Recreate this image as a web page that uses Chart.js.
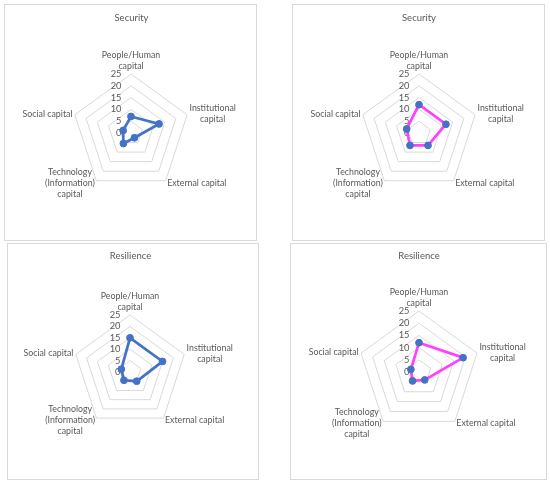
<!DOCTYPE html>
<html>
<head>
<meta charset="utf-8">
<script src="https://cdn.jsdelivr.net/npm/chart.js@4"></script>
<style>
  body { margin: 0; background: #fff; width: 550px; height: 484px; }
  .panel { position: absolute; border: 1px solid #d9d9d9; background: #fff; }
  .panel canvas { display: block; }
</style>
</head>
<body>
<div class="panel" id="p1"><canvas id="c1"></canvas></div>
<div class="panel" id="p2"><canvas id="c2"></canvas></div>
<div class="panel" id="p3"><canvas id="c3"></canvas></div>
<div class="panel" id="p4"><canvas id="c4"></canvas></div>
<script>
// categories around the radar, one array per label (lines)
const categories = [
    ['People/Human', 'capital'],
    ['Institutional', 'capital'],
    ['External capital'],
    ['Technology', '(Information)', 'capital'],
    ['Social capital']
];

// values
const securityLeft = [7, 12.5, 2.5, 5.5, 3.5];
const securityRight = [12, 12, 6.5, 6.5, 5.5];
const resilienceLeft = [15, 15, 5, 4.5, 4];
const resilienceRight = [12, 19, 4, 4.5, 3.5];

const scaleMin = 0;
const scaleMax = 25;
const scaleStep = 5;

const BLUE = '#4472C4';
const PINK = '#FF40FF';
const TEXT = '#595959';
const GRID = '#D9D9D9';
const FONT = 'Lato, "Open Sans", sans-serif';
const TITLE_SIZE = 9.5;

// box = [left, top, width, height] on the page; cx/cy/r = where the radar sits
const panels = [
    { canvas: 'c1', div: 'p1', box: [4, 4, 253, 237], cx: 131.5, cy: 133.3, r: 59.5, titleY: 18.3,
      title: 'Security', values: securityLeft, line: BLUE },
    { canvas: 'c2', div: 'p2', box: [292, 4, 253, 237], cx: 419, cy: 133.3, r: 59.5, titleY: 18.3,
      title: 'Security', values: securityRight, line: PINK },
    { canvas: 'c3', div: 'p3', box: [7, 243, 252, 237], cx: 130.5, cy: 372.5, r: 57, titleY: 256.3,
      title: 'Resilience', values: resilienceLeft, line: BLUE },
    { canvas: 'c4', div: 'p4', box: [290, 243, 257, 237], cx: 419, cy: 372, r: 61.5, titleY: 256.3,
      title: 'Resilience', values: resilienceRight, line: PINK }
];

// tick labels left of the vertical axis, category labels outside the outer ring
const radarText = {
    id: 'radarText',
    beforeDatasetsDraw(chart) {
        const scale = chart.scales.r;
        const ctx = chart.ctx;
        ctx.save();
        ctx.fillStyle = TEXT;
        ctx.font = '9.3px ' + FONT;
        ctx.textAlign = 'right';
        ctx.textBaseline = 'middle';
        scale.ticks.forEach(t => {
            const d = scale.getDistanceFromCenterForValue(t.value);
            ctx.fillText(String(t.value), scale.xCenter - 9.5, scale.yCenter - d);
        });

        ctx.font = '8.8px ' + FONT;
        ctx.textAlign = 'center';
        const lh = 11;
        chart.data.labels.forEach((lines, i) => {
            const p = scale.getPointPosition(i, scale.drawingArea + 2.5);
            const w = Math.max(...lines.map(s => ctx.measureText(s).width));
            const h = lines.length * lh;
            let x, top;
            if (Math.abs(p.x - scale.xCenter) < 1) {
                x = p.x;
                top = p.y - h;
            } else if (p.x > scale.xCenter) {
                x = p.x + w / 2;
                top = p.y - h / 2;
            } else {
                x = p.x - w / 2;
                top = p.y - h / 2;
            }
            lines.forEach((s, k) => ctx.fillText(s, x, top + lh * (k + 0.5)));
        });
        ctx.restore();
    }
};

panels.forEach(p => {
    const div = document.getElementById(p.div);
    div.style.left = p.box[0] + 'px';
    div.style.top = p.box[1] + 'px';
    const W = p.box[2] - 2;
    const H = p.box[3] - 2;
    const el = document.getElementById(p.canvas);
    el.width = W;
    el.height = H;
    el.style.width = W + 'px';
    el.style.height = H + 'px';

    const ox = p.box[0] + 1;
    const oy = p.box[1] + 1;
    const cx = p.cx - ox;
    const cy = p.cy - oy;
    const ty = p.titleY - oy;
    const half = TITLE_SIZE * 0.6;

    new Chart(el, {
        type: 'radar',
        data: {
            labels: categories,
            datasets: [{
                label: p.title,
                data: p.values,
                borderColor: p.line,
                borderWidth: 2.75,
                pointBackgroundColor: BLUE,
                pointBorderColor: BLUE,
                pointBorderWidth: 1,
                pointRadius: 3.4,
                fill: false
            }]
        },
        options: {
            responsive: false,
            animation: false,
            layout: {
                padding: {
                    top: 0,
                    left: cx - p.r,
                    right: W - cx - p.r,
                    bottom: H - cy - p.r
                }
            },
            plugins: {
                legend: { display: false },
                tooltip: { enabled: false },
                title: {
                    display: true,
                    text: p.title,
                    color: TEXT,
                    font: { family: FONT, size: TITLE_SIZE, weight: 'normal' },
                    padding: { top: ty - half, bottom: (cy - p.r) - ty - half }
                }
            },
            scales: {
                r: {
                    min: scaleMin,
                    max: scaleMax,
                    ticks: { stepSize: scaleStep, display: false },
                    pointLabels: { display: false },
                    angleLines: { display: false },
                    grid: { color: GRID, lineWidth: 1 }
                }
            }
        },
        plugins: [radarText]
    });
});
</script>
</body>
</html>
